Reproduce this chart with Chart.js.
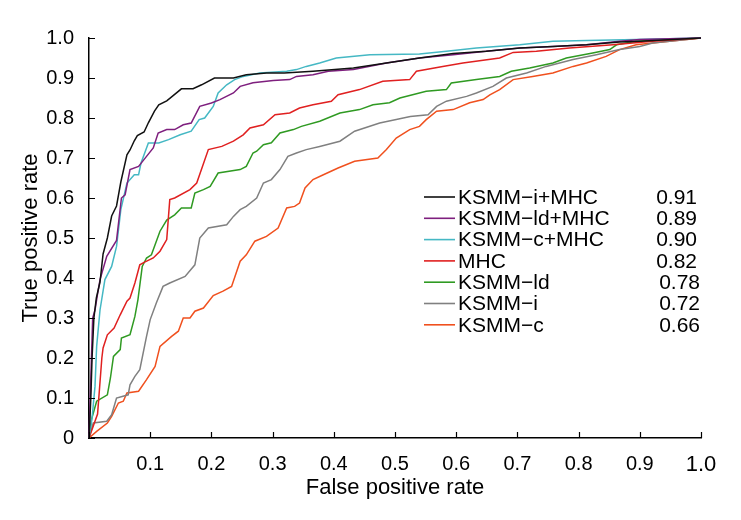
<!DOCTYPE html>
<html>
<head>
<meta charset="utf-8">
<script src="https://cdn.jsdelivr.net/npm/chart.js@4"></script>
<style>
  html, body { margin: 0; padding: 0; background: #fff; }
  #wrap { width: 741px; height: 520px; position: relative; }
</style>
</head>
<body>
<div id="wrap"><canvas id="roc"></canvas></div>
<script>
// ROC curves, [false positive rate, true positive rate] pairs
const seriesNames = ['KSMM\u2212i+MHC', 'KSMM\u2212ld+MHC', 'KSMM\u2212c+MHC', 'MHC', 'KSMM\u2212ld', 'KSMM\u2212i', 'KSMM\u2212c'];
const aucValues = ['0.91', '0.89', '0.90', '0.82', '0.78', '0.72', '0.66'];
const xTickLabels = ['', '0.1', '0.2', '0.3', '0.4', '0.5', '0.6', '0.7', '0.8', '0.9', '1.0'];
const yTickLabels = ['0', '0.1', '0.2', '0.3', '0.4', '0.5', '0.6', '0.7', '0.8', '0.9', '1.0'];

const rocIMhc = [[0,0],[0.003,0.1],[0.005,0.2],[0.008,0.3],[0.012,0.35],[0.018,0.39],[0.023,0.46],[0.030,0.50],[0.037,0.555],[0.045,0.58],[0.052,0.64],[0.062,0.708],[0.067,0.72],[0.074,0.743],[0.079,0.756],[0.090,0.765],[0.097,0.788],[0.107,0.817],[0.114,0.833],[0.127,0.843],[0.136,0.854],[0.151,0.873],[0.170,0.873],[0.184,0.883],[0.205,0.9],[0.236,0.9],[0.257,0.908],[0.290,0.9125],[0.319,0.9125],[0.366,0.917],[0.432,0.925],[0.486,0.9375],[0.540,0.95],[0.595,0.961],[0.649,0.967],[0.704,0.975],[0.758,0.979],[0.813,0.983],[0.867,0.99],[0.9,0.992],[1,1]];
const rocLdMhc = [[0,0],[0.002,0.1],[0.004,0.2],[0.006,0.3],[0.0098,0.32],[0.014,0.36],[0.018,0.396],[0.029,0.454],[0.045,0.494],[0.053,0.6],[0.059,0.608],[0.067,0.671],[0.081,0.679],[0.094,0.704],[0.105,0.725],[0.113,0.7625],[0.127,0.771],[0.140,0.771],[0.154,0.783],[0.167,0.7875],[0.181,0.829],[0.2,0.8375],[0.214,0.846],[0.236,0.8625],[0.247,0.879],[0.268,0.888],[0.301,0.894],[0.328,0.896],[0.339,0.904],[0.366,0.908],[0.391,0.917],[0.432,0.921],[0.486,0.9375],[0.540,0.95],[0.595,0.958],[0.649,0.967],[0.704,0.975],[0.758,0.979],[0.813,0.983],[0.867,0.992],[0.9,0.996],[1,1]];
const rocCMhc = [[0,0],[0.005,0.05],[0.0098,0.129],[0.0125,0.229],[0.018,0.32],[0.026,0.396],[0.037,0.429],[0.045,0.479],[0.052,0.571],[0.062,0.6375],[0.074,0.658],[0.081,0.658],[0.085,0.6875],[0.097,0.7375],[0.114,0.7375],[0.130,0.746],[0.149,0.758],[0.167,0.767],[0.180,0.796],[0.189,0.8],[0.203,0.829],[0.211,0.8625],[0.225,0.883],[0.238,0.896],[0.252,0.904],[0.279,0.9125],[0.323,0.917],[0.339,0.921],[0.355,0.929],[0.377,0.9375],[0.404,0.95],[0.459,0.958],[0.540,0.96],[0.584,0.967],[0.633,0.975],[0.704,0.983],[0.758,0.992],[0.813,0.994],[0.894,0.996],[1,1]];
const rocMhc = [[0,0],[0.014,0.06],[0.017,0.12],[0.021,0.2],[0.023,0.225],[0.030,0.258],[0.041,0.275],[0.051,0.308],[0.062,0.342],[0.067,0.35],[0.075,0.3875],[0.083,0.433],[0.090,0.439],[0.105,0.45],[0.116,0.467],[0.127,0.496],[0.132,0.596],[0.140,0.6],[0.165,0.621],[0.176,0.6375],[0.195,0.721],[0.217,0.729],[0.236,0.742],[0.252,0.758],[0.263,0.775],[0.285,0.783],[0.304,0.808],[0.328,0.8125],[0.344,0.825],[0.366,0.833],[0.396,0.842],[0.407,0.858],[0.442,0.871],[0.480,0.892],[0.524,0.896],[0.535,0.917],[0.578,0.929],[0.611,0.9375],[0.671,0.95],[0.693,0.964],[0.731,0.967],[0.785,0.975],[0.856,0.983],[0.921,0.992],[1,1]];
const rocLd = [[0,0],[0.004,0.046],[0.0125,0.092],[0.030,0.108],[0.035,0.15],[0.040,0.204],[0.051,0.221],[0.053,0.25],[0.067,0.258],[0.075,0.304],[0.080,0.346],[0.087,0.429],[0.094,0.45],[0.102,0.458],[0.116,0.517],[0.127,0.545],[0.140,0.558],[0.151,0.575],[0.167,0.575],[0.173,0.6125],[0.187,0.621],[0.198,0.629],[0.211,0.6625],[0.247,0.671],[0.257,0.679],[0.268,0.7125],[0.274,0.717],[0.285,0.733],[0.298,0.738],[0.312,0.7625],[0.334,0.771],[0.347,0.779],[0.377,0.792],[0.410,0.8125],[0.442,0.821],[0.464,0.833],[0.491,0.838],[0.508,0.85],[0.551,0.867],[0.584,0.871],[0.592,0.8875],[0.633,0.896],[0.671,0.904],[0.690,0.917],[0.72,0.925],[0.758,0.9375],[0.780,0.95],[0.823,0.9625],[0.851,0.971],[0.862,0.983],[0.894,0.992],[1,1]];
const rocI = [[0,0],[0.007,0.0375],[0.029,0.042],[0.037,0.058],[0.045,0.1],[0.064,0.108],[0.067,0.133],[0.075,0.154],[0.083,0.171],[0.094,0.254],[0.100,0.296],[0.110,0.3375],[0.121,0.379],[0.132,0.3875],[0.157,0.404],[0.173,0.433],[0.181,0.5],[0.195,0.525],[0.225,0.533],[0.236,0.554],[0.247,0.571],[0.257,0.579],[0.274,0.6],[0.285,0.6375],[0.298,0.646],[0.312,0.671],[0.325,0.704],[0.339,0.7125],[0.355,0.721],[0.377,0.729],[0.410,0.742],[0.434,0.767],[0.475,0.7875],[0.502,0.796],[0.525,0.804],[0.554,0.808],[0.568,0.829],[0.584,0.842],[0.617,0.854],[0.633,0.8625],[0.660,0.879],[0.682,0.9],[0.715,0.9125],[0.747,0.929],[0.791,0.946],[0.829,0.958],[0.867,0.971],[0.9,0.979],[0.921,0.9875],[1,1]];
const rocC = [[0,0],[0.0125,0.0167],[0.030,0.0375],[0.037,0.054],[0.048,0.0875],[0.056,0.092],[0.062,0.1125],[0.081,0.117],[0.094,0.146],[0.108,0.179],[0.116,0.229],[0.135,0.254],[0.146,0.267],[0.154,0.3],[0.165,0.3],[0.173,0.317],[0.187,0.325],[0.203,0.356],[0.219,0.367],[0.233,0.379],[0.247,0.442],[0.257,0.458],[0.271,0.492],[0.290,0.504],[0.309,0.525],[0.323,0.575],[0.336,0.579],[0.344,0.5875],[0.353,0.625],[0.366,0.646],[0.383,0.658],[0.407,0.675],[0.434,0.692],[0.472,0.7],[0.486,0.721],[0.502,0.75],[0.524,0.771],[0.540,0.779],[0.551,0.796],[0.568,0.817],[0.595,0.821],[0.622,0.838],[0.644,0.846],[0.655,0.858],[0.671,0.871],[0.693,0.896],[0.725,0.904],[0.758,0.9125],[0.791,0.929],[0.813,0.9375],[0.845,0.954],[0.867,0.971],[0.894,0.983],[0.921,0.9875],[1,1]];

const curves = [rocIMhc, rocLdMhc, rocCMhc, rocMhc, rocLd, rocI, rocC];
const colors = ['#111111', '#7e1f7e', '#45b8c4', '#e02020', '#2f9a22', '#808080', '#f0501e'];
const FONT = '"Liberation Sans", Arial, sans-serif';

// ticks point inwards, so they are drawn by hand
const inwardTicks = {
  id: 'inwardTicks',
  afterDraw(chart) {
    const { ctx, scales: { x, y } } = chart;
    ctx.save();
    ctx.strokeStyle = '#000';
    ctx.lineWidth = 1.2;
    ctx.beginPath();
    x.ticks.forEach((t) => {
      const px = Math.round(x.getPixelForValue(t.value)) + 0.5;
      ctx.moveTo(px, y.bottom);
      ctx.lineTo(px, y.bottom - 6);
    });
    y.ticks.forEach((t) => {
      const py = Math.round(y.getPixelForValue(t.value)) + 0.5;
      ctx.moveTo(x.left, py);
      ctx.lineTo(x.left + 6, py);
    });
    ctx.stroke();
    ctx.restore();
  }
};

// legend with the AUC column
const aucLegend = {
  id: 'aucLegend',
  afterDraw(chart) {
    const ctx = chart.ctx;
    ctx.save();
    ctx.font = '21px ' + FONT;
    ctx.textBaseline = 'middle';
    ctx.fillStyle = '#000';
    seriesNames.forEach((name, i) => {
      const yy = 197 + i * 21.3;
      ctx.strokeStyle = colors[i];
      ctx.lineWidth = 1.6;
      ctx.beginPath();
      ctx.moveTo(424, yy);
      ctx.lineTo(455, yy);
      ctx.stroke();
      ctx.textAlign = 'left';
      ctx.fillText(name, 458, yy + 1);
      ctx.textAlign = 'right';
      ctx.fillText(aucValues[i], i < 4 ? 697 : 700, yy + 1);
    });
    ctx.restore();
  }
};

new Chart(document.getElementById('roc').getContext('2d'), {
  type: 'scatter',
  data: {
    datasets: curves.map((pts, i) => ({
      label: seriesNames[i],
      data: pts.map((p) => ({ x: p[0], y: p[1] })),
      showLine: true,
      borderColor: colors[i],
      backgroundColor: colors[i],
      borderWidth: 1.5,
      pointRadius: 0,
      tension: 0,
      clip: 3,
    }))
  },
  options: {
    responsive: true,
    maintainAspectRatio: false,
    animation: false,
    layout: { padding: { top: 38, right: 40, left: 0, bottom: 0 } },
    plugins: { legend: { display: false }, tooltip: { enabled: false } },
    scales: {
      x: {
        type: 'linear',
        min: 0,
        max: 1,
        grid: { display: false },
        border: { display: true, color: '#000', width: 1.5 },
        ticks: {
          stepSize: 0.1,
          padding: 6,
          color: '#000',
          maxRotation: 0,
          autoSkip: false,
          font: (c) => ({ family: FONT, size: c.index === 10 ? 22 : 20 }),
          callback: (v, i) => xTickLabels[i],
        },
        title: {
          display: true,
          text: 'False positive rate',
          color: '#000',
          font: { family: FONT, size: 22 },
          padding: { top: 0, bottom: 19 },
        },
        afterFit: (s) => { s.height = 82; },
      },
      y: {
        type: 'linear',
        min: 0,
        max: 1,
        grid: { display: false },
        border: { display: true, color: '#000', width: 1.5 },
        ticks: {
          stepSize: 0.1,
          padding: 7,
          color: '#000',
          autoSkip: false,
          font: { family: FONT, size: 20 },
          callback: (v, i) => yTickLabels[i],
        },
        title: {
          display: true,
          text: 'True positive rate',
          color: '#000',
          font: { family: FONT, size: 22 },
          padding: { top: 18, bottom: 0 },
        },
        afterFit: (s) => { s.width = 89; },
      }
    }
  },
  plugins: [inwardTicks, aucLegend]
});
</script>
</body>
</html>
